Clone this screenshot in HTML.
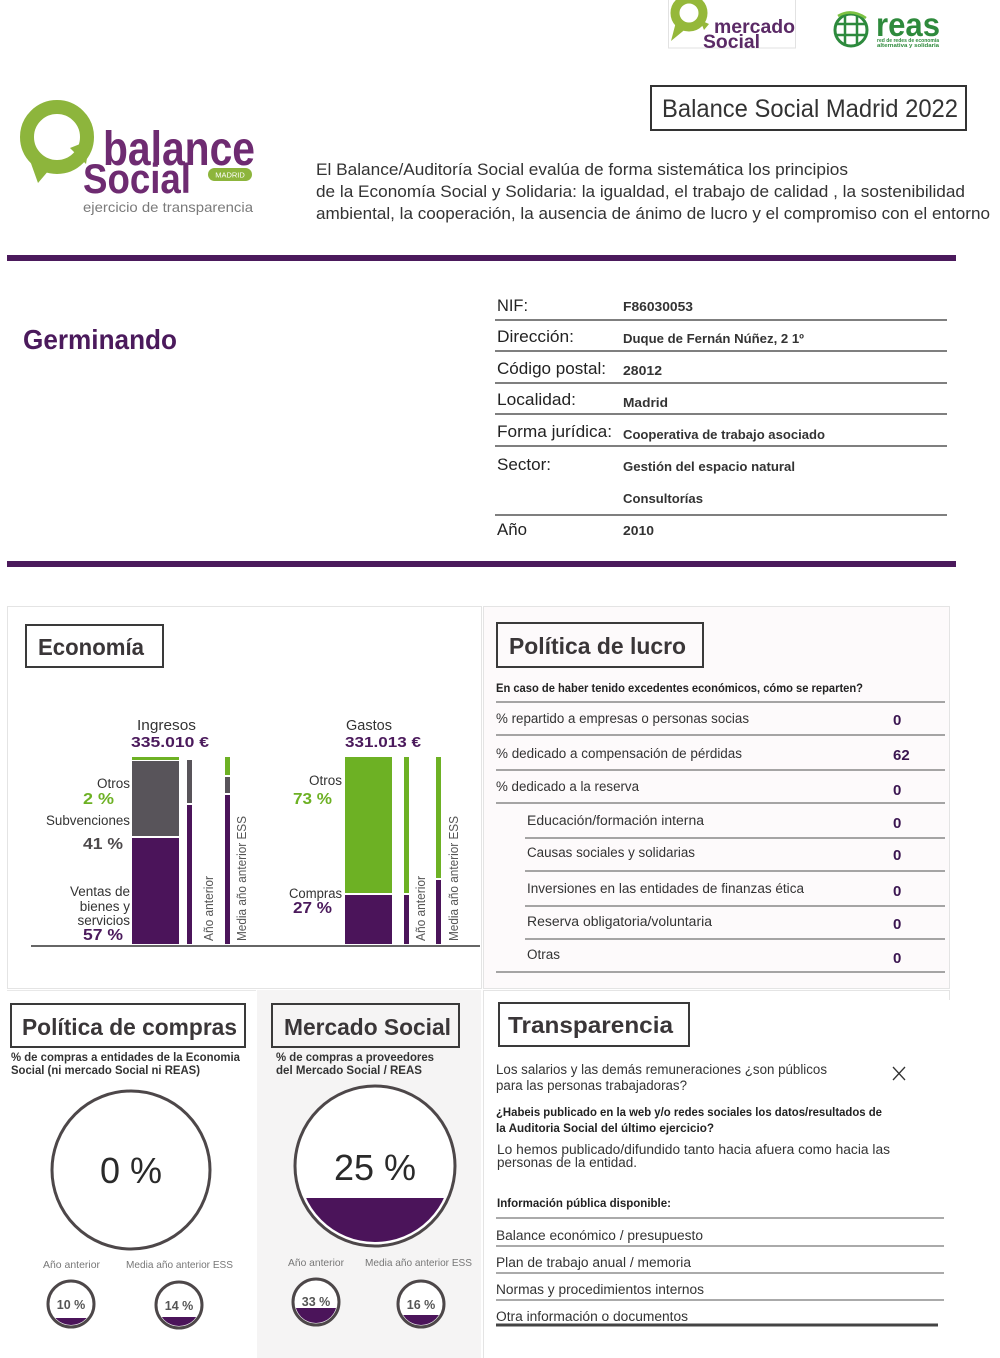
<!DOCTYPE html>
<html><head><meta charset="utf-8"><style>
html,body{margin:0;padding:0;background:#fff;}
svg{display:block;}
text{font-family:"Liberation Sans",sans-serif;}
</style></head><body>
<svg width="1000" height="1358" viewBox="0 0 1000 1358" xmlns="http://www.w3.org/2000/svg">
<defs>
<clipPath id="cBig"><circle cx="375" cy="1166" r="76"/></clipPath>
<clipPath id="c1"><circle cx="71" cy="1304" r="21"/></clipPath>
<clipPath id="c2"><circle cx="179" cy="1305" r="21"/></clipPath>
<clipPath id="c3"><circle cx="316" cy="1302" r="21"/></clipPath>
<clipPath id="c4"><circle cx="421" cy="1304" r="21"/></clipPath>
</defs>

<!-- Mercado social logo -->
<rect x="668.5" y="-1" width="127" height="49" fill="#fff" stroke="#e2e2e2"/>
<circle cx="689" cy="13" r="14" fill="none" stroke="#95b83a" stroke-width="9"/>
<polygon points="676,22 671,41 688,27" fill="#95b83a"/>
<polygon points="700,20 709,24 704,30" fill="#95b83a"/>
<text x="714" y="33" font-size="19" font-weight="bold" fill="#5b2a66" textLength="81" lengthAdjust="spacingAndGlyphs">mercado</text>
<text x="703" y="48" font-size="19" font-weight="bold" fill="#5b2a66" textLength="57" lengthAdjust="spacingAndGlyphs">Social</text>

<!-- reas logo -->
<circle cx="851" cy="30" r="16" fill="none" stroke="#2d8a3d" stroke-width="3"/>
<line x1="835" y1="24" x2="867" y2="24" stroke="#2d8a3d" stroke-width="2.5"/>
<line x1="835" y1="35" x2="867" y2="35" stroke="#2d8a3d" stroke-width="2.5"/>
<line x1="845" y1="14" x2="845" y2="46" stroke="#2d8a3d" stroke-width="2.5"/>
<line x1="857" y1="14" x2="857" y2="46" stroke="#2d8a3d" stroke-width="2.5"/>
<path d="M838 16 Q851 8 866 18" fill="none" stroke="#7cc242" stroke-width="2.5"/>
<text x="876" y="36" font-size="33" font-weight="bold" fill="#2e8a3c" textLength="64" lengthAdjust="spacingAndGlyphs">reas</text>
<text x="877" y="42" font-size="5" font-weight="bold" fill="#2e8a3c" textLength="62" lengthAdjust="spacingAndGlyphs">red de redes de economía</text>
<text x="877" y="47" font-size="5.5" font-weight="bold" fill="#2e8a3c" textLength="62" lengthAdjust="spacingAndGlyphs">alternativa y solidaria</text>

<!-- Balance social logo -->
<circle cx="57" cy="137" r="30" fill="none" stroke="#8db53c" stroke-width="14"/>
<polygon points="28,155 38,183 55,163" fill="#8db53c"/>
<polygon points="70,148 90,140 86,164" fill="#8db53c"/>
<text x="103" y="165" font-size="48" font-weight="bold" fill="#6e2b71" textLength="152" lengthAdjust="spacingAndGlyphs">balance</text>
<text x="83" y="193" font-size="42" font-weight="bold" fill="#6e2b71" textLength="108" lengthAdjust="spacingAndGlyphs">Social</text>
<rect x="208" y="168" width="44" height="13" rx="6.5" fill="#8db53c"/>
<text x="230" y="177.5" font-size="7.5" fill="#fff" text-anchor="middle">MADRID</text>
<text x="83" y="212" font-size="14" fill="#7a7a7a" textLength="170" lengthAdjust="spacingAndGlyphs">ejercicio de transparencia</text>

<!-- Title box -->
<rect x="651" y="86" width="315" height="44" fill="none" stroke="#333" stroke-width="2"/>
<text x="662" y="117" font-size="25" fill="#333" textLength="296" lengthAdjust="spacingAndGlyphs">Balance Social Madrid 2022</text>

<!-- Description -->
<text x="316" y="175" font-size="17" fill="#333" textLength="532" lengthAdjust="spacingAndGlyphs">El Balance/Auditoría Social evalúa de forma sistemática los principios</text>
<text x="316" y="197" font-size="17" fill="#333" textLength="649" lengthAdjust="spacingAndGlyphs">de la Economía  Social y Solidaria: la igualdad, el trabajo de calidad , la sostenibilidad</text>
<text x="316" y="219" font-size="17" fill="#333" textLength="674" lengthAdjust="spacingAndGlyphs">ambiental, la cooperación, la ausencia de ánimo de lucro y el compromiso con el entorno</text>

<!-- Purple bars -->
<rect x="7" y="255" width="949" height="6" fill="#4b1a5c"/>
<rect x="7" y="561" width="949" height="6" fill="#4b1a5c"/>

<text x="23" y="349" font-size="28" font-weight="bold" fill="#4b1a5c" textLength="154" lengthAdjust="spacingAndGlyphs">Germinando</text>

<!-- Info table -->
<g font-size="17" fill="#222">
<text x="497" y="311" textLength="31" lengthAdjust="spacingAndGlyphs">NIF:</text>
<text x="497" y="342" textLength="77" lengthAdjust="spacingAndGlyphs">Dirección:</text>
<text x="497" y="374" textLength="109" lengthAdjust="spacingAndGlyphs">Código postal:</text>
<text x="497" y="405" textLength="79" lengthAdjust="spacingAndGlyphs">Localidad:</text>
<text x="497" y="437" textLength="115" lengthAdjust="spacingAndGlyphs">Forma jurídica:</text>
<text x="497" y="470" textLength="54" lengthAdjust="spacingAndGlyphs">Sector:</text>
<text x="497" y="535" textLength="30" lengthAdjust="spacingAndGlyphs">Año</text>
</g>
<g font-size="13" font-weight="bold" fill="#333">
<text x="623" y="311" textLength="70" lengthAdjust="spacingAndGlyphs">F86030053</text>
<text x="623" y="343" textLength="181" lengthAdjust="spacingAndGlyphs">Duque de Fernán Núñez, 2 1º</text>
<text x="623" y="375" textLength="39" lengthAdjust="spacingAndGlyphs">28012</text>
<text x="623" y="407" textLength="45" lengthAdjust="spacingAndGlyphs">Madrid</text>
<text x="623" y="439" textLength="202" lengthAdjust="spacingAndGlyphs">Cooperativa de trabajo asociado</text>
<text x="623" y="471" textLength="172" lengthAdjust="spacingAndGlyphs">Gestión del espacio natural</text>
<text x="623" y="503" textLength="80" lengthAdjust="spacingAndGlyphs">Consultorías</text>
<text x="623" y="535" textLength="31" lengthAdjust="spacingAndGlyphs">2010</text>
</g>
<g stroke="#555" stroke-width="1.5">
<line x1="495" y1="320" x2="947" y2="320"/>
<line x1="495" y1="351" x2="947" y2="351"/>
<line x1="495" y1="383" x2="947" y2="383"/>
<line x1="495" y1="414" x2="947" y2="414"/>
<line x1="495" y1="446" x2="947" y2="446"/>
<line x1="495" y1="515" x2="947" y2="515"/>
</g>

<!-- Panels -->
<rect x="7.5" y="606.5" width="474" height="382" fill="#fff" stroke="#e4e4e4"/>
<rect x="483.5" y="606.5" width="466" height="382" fill="#fdfafb" stroke="#e4e4e4"/>
<line x1="7" y1="990.5" x2="256" y2="990.5" stroke="#e8e8e8"/>
<rect x="257" y="990" width="224" height="368" fill="#f5f4f4"/>
<line x1="483" y1="990.5" x2="950" y2="990.5" stroke="#e4e4e4"/>
<line x1="483.5" y1="990" x2="483.5" y2="1358" stroke="#e4e4e4"/>
<line x1="949.5" y1="990" x2="949.5" y2="1000" stroke="#e4e4e4"/>

<!-- Title boxes -->
<g fill="none" stroke="#3a3a3a" stroke-width="2">
<rect x="26" y="625" width="137" height="42"/>
<rect x="497" y="623" width="206" height="44"/>
<rect x="11" y="1004" width="234" height="43"/>
<rect x="272" y="1004" width="187" height="43"/>
<rect x="499" y="1003" width="190" height="43"/>
</g>
<g font-size="23" font-weight="bold" fill="#3a3638">
<text x="38" y="655" textLength="106" lengthAdjust="spacingAndGlyphs">Economía</text>
<text x="509" y="654" textLength="177" lengthAdjust="spacingAndGlyphs">Política de lucro</text>
<text x="22" y="1035" textLength="215" lengthAdjust="spacingAndGlyphs">Política de compras</text>
<text x="284" y="1035" textLength="167" lengthAdjust="spacingAndGlyphs">Mercado Social</text>
<text x="508" y="1033" textLength="165" lengthAdjust="spacingAndGlyphs">Transparencia</text>
</g>

<!-- Economia chart -->
<text x="137" y="730" font-size="15" fill="#333" textLength="59" lengthAdjust="spacingAndGlyphs">Ingresos</text>
<text x="131" y="747" font-size="15" font-weight="bold" fill="#4b1a5c" textLength="78" lengthAdjust="spacingAndGlyphs">335.010 €</text>
<text x="346" y="730" font-size="15" fill="#333" textLength="46" lengthAdjust="spacingAndGlyphs">Gastos</text>
<text x="345" y="747" font-size="15" font-weight="bold" fill="#4b1a5c" textLength="76" lengthAdjust="spacingAndGlyphs">331.013 €</text>

<rect x="132" y="757" width="47" height="3" fill="#6db124"/>
<rect x="132" y="761" width="47" height="75" fill="#58545a"/>
<rect x="132" y="838" width="47" height="106" fill="#4b145a"/>
<rect x="187" y="760" width="5" height="43" fill="#58545a"/>
<rect x="187" y="805" width="5" height="139" fill="#4b145a"/>
<rect x="225" y="757" width="5" height="18" fill="#6db124"/>
<rect x="225" y="777" width="5" height="16" fill="#58545a"/>
<rect x="225" y="795" width="5" height="149" fill="#4b145a"/>

<rect x="345" y="757" width="47" height="136" fill="#6db124"/>
<rect x="345" y="895" width="47" height="49" fill="#4b145a"/>
<rect x="404" y="757" width="5" height="136" fill="#6db124"/>
<rect x="404" y="895" width="5" height="49" fill="#4b145a"/>
<rect x="436" y="757" width="5" height="121" fill="#6db124"/>
<rect x="436" y="880" width="5" height="64" fill="#4b145a"/>

<line x1="31" y1="946" x2="480" y2="946" stroke="#666" stroke-width="2"/>

<g font-size="12.5" fill="#555">
<text transform="translate(213,941) rotate(-90)" textLength="65" lengthAdjust="spacingAndGlyphs">Año anterior</text>
<text transform="translate(246,941) rotate(-90)" textLength="125" lengthAdjust="spacingAndGlyphs">Media año anterior ESS</text>
<text transform="translate(425,941) rotate(-90)" textLength="65" lengthAdjust="spacingAndGlyphs">Año anterior</text>
<text transform="translate(458,941) rotate(-90)" textLength="125" lengthAdjust="spacingAndGlyphs">Media año anterior ESS</text>
</g>

<g font-size="13.5" fill="#333" text-anchor="end">
<text x="130" y="788">Otros</text>
<text x="130" y="825" textLength="84" lengthAdjust="spacingAndGlyphs">Subvenciones</text>
<text x="130" y="896">Ventas de</text>
<text x="130" y="911">bienes y</text>
<text x="130" y="925">servicios</text>
<text x="342" y="785">Otros</text>
<text x="342" y="898" textLength="53" lengthAdjust="spacingAndGlyphs">Compras</text>
</g>
<g font-size="16" font-weight="bold">
<text x="83" y="804" fill="#6db124" textLength="31" lengthAdjust="spacingAndGlyphs">2 %</text>
<text x="83" y="849" fill="#4d494b" textLength="40" lengthAdjust="spacingAndGlyphs">41 %</text>
<text x="83" y="940" fill="#4b1a5c" textLength="40" lengthAdjust="spacingAndGlyphs">57 %</text>
<text x="293" y="804" fill="#6db124" textLength="39" lengthAdjust="spacingAndGlyphs">73 %</text>
<text x="293" y="913" fill="#4b1a5c" textLength="39" lengthAdjust="spacingAndGlyphs">27 %</text>
</g>

<!-- Politica de lucro -->
<text x="496" y="692" font-size="11.5" font-weight="bold" fill="#222" textLength="367" lengthAdjust="spacingAndGlyphs">En caso de haber tenido excedentes económicos, cómo se reparten?</text>
<g stroke="#888" stroke-width="1.5">
<line x1="496" y1="702" x2="945" y2="702"/>
<line x1="496" y1="735" x2="945" y2="735"/>
<line x1="496" y1="770" x2="945" y2="770"/>
<line x1="496" y1="803" x2="945" y2="803"/>
<line x1="525" y1="838" x2="945" y2="838"/>
<line x1="525" y1="871" x2="945" y2="871"/>
<line x1="525" y1="906" x2="945" y2="906"/>
<line x1="525" y1="939" x2="945" y2="939"/>
<line x1="496" y1="972" x2="945" y2="972"/>
</g>
<g font-size="13.5" fill="#333">
<text x="496" y="723" textLength="253" lengthAdjust="spacingAndGlyphs">% repartido a empresas o personas socias</text>
<text x="496" y="758" textLength="246" lengthAdjust="spacingAndGlyphs">% dedicado a compensación de pérdidas</text>
<text x="496" y="791" textLength="143" lengthAdjust="spacingAndGlyphs">% dedicado a la reserva</text>
<text x="527" y="825" textLength="177" lengthAdjust="spacingAndGlyphs">Educación/formación interna</text>
<text x="527" y="857" textLength="168" lengthAdjust="spacingAndGlyphs">Causas sociales y solidarias</text>
<text x="527" y="893" textLength="277" lengthAdjust="spacingAndGlyphs">Inversiones en las entidades de finanzas ética</text>
<text x="527" y="926" textLength="185" lengthAdjust="spacingAndGlyphs">Reserva obligatoria/voluntaria</text>
<text x="527" y="959" textLength="33" lengthAdjust="spacingAndGlyphs">Otras</text>
</g>
<g font-size="15" font-weight="bold" fill="#3a1550">
<text x="893" y="725">0</text>
<text x="893" y="760">62</text>
<text x="893" y="795">0</text>
<text x="893" y="828">0</text>
<text x="893" y="860">0</text>
<text x="893" y="896">0</text>
<text x="893" y="929">0</text>
<text x="893" y="963">0</text>
</g>

<!-- Politica de compras -->
<g font-size="11.5" font-weight="bold" fill="#333">
<text x="11" y="1061" textLength="229" lengthAdjust="spacingAndGlyphs">% de compras a entidades de la Economia</text>
<text x="11" y="1074" textLength="189" lengthAdjust="spacingAndGlyphs">Social (ni mercado Social ni REAS)</text>
<text x="276" y="1061" textLength="158" lengthAdjust="spacingAndGlyphs">% de compras a proveedores</text>
<text x="276" y="1074" textLength="146" lengthAdjust="spacingAndGlyphs">del Mercado Social / REAS</text>
</g>

<circle cx="131" cy="1170" r="79" fill="#fff" stroke="#4d4749" stroke-width="3"/>
<text x="131" y="1183" font-size="36" fill="#2a2a2a" text-anchor="middle">0 %</text>

<circle cx="375" cy="1166" r="80" fill="#fff" stroke="#4d4749" stroke-width="3"/>
<rect x="290" y="1198" width="170" height="60" fill="#4b145a" clip-path="url(#cBig)"/>
<text x="375" y="1180" font-size="36" fill="#2a2a2a" text-anchor="middle">25 %</text>

<g font-size="10.5" fill="#777">
<text x="43" y="1268" textLength="57" lengthAdjust="spacingAndGlyphs">Año anterior</text>
<text x="126" y="1268" textLength="107" lengthAdjust="spacingAndGlyphs">Media año anterior ESS</text>
<text x="288" y="1266" textLength="56" lengthAdjust="spacingAndGlyphs">Año anterior</text>
<text x="365" y="1266" textLength="107" lengthAdjust="spacingAndGlyphs">Media año anterior ESS</text>
</g>

<g fill="#fff" stroke="#4d4749" stroke-width="3">
<circle cx="71" cy="1304" r="23"/>
<circle cx="179" cy="1305" r="23"/>
<circle cx="316" cy="1302" r="23"/>
<circle cx="421" cy="1304" r="23"/>
</g>
<rect x="45" y="1318" width="52" height="10" fill="#4b145a" clip-path="url(#c1)"/>
<rect x="153" y="1317" width="52" height="12" fill="#4b145a" clip-path="url(#c2)"/>
<rect x="290" y="1308" width="52" height="20" fill="#4b145a" clip-path="url(#c3)"/>
<rect x="395" y="1315" width="52" height="14" fill="#4b145a" clip-path="url(#c4)"/>
<g font-size="12.5" font-weight="bold" fill="#555" text-anchor="middle">
<text x="71" y="1309">10 %</text>
<text x="179" y="1310">14 %</text>
<text x="316" y="1306">33 %</text>
<text x="421" y="1309">16 %</text>
</g>

<!-- Transparencia -->
<g font-size="13.5" fill="#333">
<text x="496" y="1074" textLength="331" lengthAdjust="spacingAndGlyphs">Los salarios y las demás remuneraciones ¿son públicos</text>
<text x="496" y="1090" textLength="191" lengthAdjust="spacingAndGlyphs">para las personas trabajadoras?</text>
<text x="497" y="1154" textLength="393" lengthAdjust="spacingAndGlyphs">Lo hemos publicado/difundido tanto hacia afuera como hacia las</text>
<text x="497" y="1167" textLength="140" lengthAdjust="spacingAndGlyphs">personas de la entidad.</text>
<text x="496" y="1240" textLength="207" lengthAdjust="spacingAndGlyphs">Balance económico / presupuesto</text>
<text x="496" y="1267" textLength="195" lengthAdjust="spacingAndGlyphs">Plan de trabajo anual / memoria</text>
<text x="496" y="1294" textLength="208" lengthAdjust="spacingAndGlyphs">Normas y procedimientos internos</text>
<text x="496" y="1321" textLength="192" lengthAdjust="spacingAndGlyphs">Otra información o documentos</text>
</g>
<g stroke="#333" stroke-width="1.3">
<line x1="893" y1="1067" x2="905" y2="1080"/>
<line x1="905" y1="1067" x2="893" y2="1080"/>
</g>
<g font-size="11.5" font-weight="bold" fill="#222">
<text x="496" y="1116" textLength="386" lengthAdjust="spacingAndGlyphs">¿Habeis publicado en la web y/o redes sociales los datos/resultados de</text>
<text x="496" y="1132" textLength="218" lengthAdjust="spacingAndGlyphs">la Auditoria Social del último ejercicio?</text>
<text x="497" y="1207" textLength="174" lengthAdjust="spacingAndGlyphs">Información pública disponible:</text>
</g>
<g stroke="#777" stroke-width="1.3">
<line x1="496" y1="1218" x2="944" y2="1218"/>
<line x1="496" y1="1246" x2="944" y2="1246"/>
<line x1="496" y1="1273" x2="944" y2="1273"/>
<line x1="496" y1="1300" x2="944" y2="1300"/>
</g>
<line x1="496" y1="1325" x2="938" y2="1325" stroke="#444" stroke-width="3"/>
</svg>
</body></html>
